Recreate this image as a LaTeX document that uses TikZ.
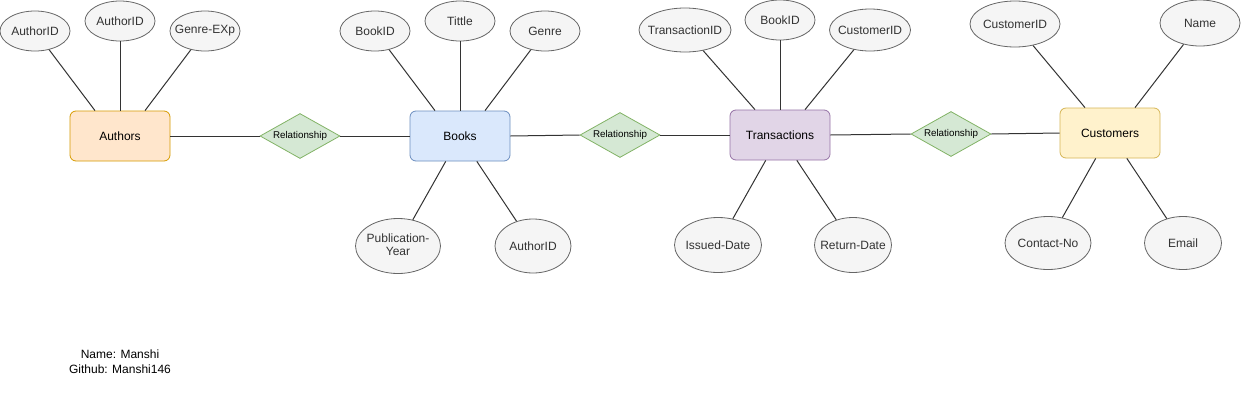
\documentclass[tikz,border=0pt]{standalone}
\usepackage{fontspec}
\setmainfont{Liberation Sans}
\usetikzlibrary{shapes.geometric}
\definecolor{attrfill}{HTML}{F5F5F5}
\definecolor{attrdraw}{HTML}{666666}
\definecolor{attrtext}{HTML}{333333}
\definecolor{orfill}{HTML}{FFE6CC}
\definecolor{ordraw}{HTML}{D79B00}
\definecolor{blfill}{HTML}{DAE8FC}
\definecolor{bldraw}{HTML}{6C8EBF}
\definecolor{pufill}{HTML}{E1D5E7}
\definecolor{pudraw}{HTML}{9673A6}
\definecolor{yefill}{HTML}{FFF2CC}
\definecolor{yedraw}{HTML}{D6B656}
\definecolor{grfill}{HTML}{D5E8D4}
\definecolor{grdraw}{HTML}{82B366}
\newcommand{\zw}[1]{\makebox[0pt]{#1}}
\tikzset{
  attr/.style={ellipse, draw=attrdraw, fill=attrfill, text=attrtext, line width=0.8pt,
    inner sep=0pt, font=\fontsize{12}{14.4}\selectfont},
  entity/.style={rectangle, rounded corners=6pt, line width=0.8pt, inner sep=0pt,
    minimum width=100pt, minimum height=50pt, font=\fontsize{12}{14.4}\selectfont},
  rel/.style={diamond, draw=grdraw, fill=grfill, line width=0.8pt, inner sep=0pt,
    minimum width=80pt, minimum height=45pt, aspect=1.78, font=\fontsize{9.8}{11}\selectfont},
  conn/.style={draw=black!80, line width=1pt},
}
\begin{document}
\begin{tikzpicture}[x=1pt,y=-1pt]
\useasboundingbox (0,0) rectangle (1241,402);
\fill[white] (0,0) rectangle (1241,402);

% entities
\node[entity, draw=ordraw, fill=orfill] (authors) at (120,136) {Authors};
\node[entity, draw=bldraw, fill=blfill] (books) at (460,136) {Books};
\node[entity, draw=pudraw, fill=pufill] (trans) at (780,135) {Transactions};
\node[entity, draw=yedraw, fill=yefill] (cust) at (1110,133) {Customers};

% relationships
\node[rel] (r1) at (300,136) {\zw{Relationship}};
\node[rel] (r2) at (620,135) {\zw{Relationship}};
\node[rel] (r3) at (951,134) {\zw{Relationship}};

% attributes: Authors
\node[attr, minimum width=70pt, minimum height=40pt] (a1) at (35,31) {\zw{AuthorID}};
\node[attr, minimum width=70pt, minimum height=40pt] (a2) at (120,21) {\zw{AuthorID}};
\node[attr, minimum width=70pt, minimum height=40pt] (a3) at (205,31) {\zw{Genre-EXp}};

% attributes: Books
\node[attr, minimum width=70pt, minimum height=40pt] (b1) at (375,31) {\zw{BookID}};
\node[attr, minimum width=70pt, minimum height=40pt] (b2) at (460,21) {\zw{Tittle}};
\node[attr, minimum width=70pt, minimum height=40pt] (b3) at (545,31) {\zw{Genre}};
\node[attr, minimum width=85pt, minimum height=55pt] (b4) at (398,246) {\zw{\begin{tabular}{@{}c@{}}Publication-\\[-1pt]Year\end{tabular}}};
\node[attr, minimum width=76pt, minimum height=54pt] (b5) at (533,246) {\zw{AuthorID}};

% attributes: Transactions
\node[attr, minimum width=92pt, minimum height=44pt] (t1) at (685,30) {\zw{TransactionID}};
\node[attr, minimum width=70pt, minimum height=40pt] (t2) at (780,20) {\zw{BookID}};
\node[attr, minimum width=81pt, minimum height=42pt] (t3) at (870,30) {\zw{CustomerID}};
\node[attr, minimum width=87pt, minimum height=55pt] (t4) at (718,245) {\zw{Issued-Date}};
\node[attr, minimum width=77pt, minimum height=55pt] (t5) at (853,245) {\zw{Return-Date}};

% attributes: Customers
\node[attr, minimum width=90pt, minimum height=46pt] (c1) at (1015,24) {\zw{CustomerID}};
\node[attr, minimum width=80pt, minimum height=46pt] (c2) at (1200,23) {\zw{Name}};
\node[attr, minimum width=86pt, minimum height=53pt] (c3) at (1048,243) {\zw{Contact-No}};
\node[attr, minimum width=77pt, minimum height=53pt] (c4) at (1183,243) {\zw{Email}};

% footer
\node[font=\fontsize{12}{15}\selectfont, align=center] (footer) at (120,361.5) {Name: Manshi\\Github: Manshi146};

% connectors: entity-relationship chain
\draw[conn] (authors.east) -- (r1.west);
\draw[conn] (r1.east) -- (books.west);
\draw[conn] (books.east) -- (r2.west);
\draw[conn] (r2.east) -- (trans.west);
\draw[conn] (trans.east) -- (r3.west);
\draw[conn] (r3.east) -- (cust.west);

% connectors: attributes on top
\draw[conn] (a1) -- ([xshift=-25pt]authors.north);
\draw[conn] (a2) -- (authors.north);
\draw[conn] (a3) -- ([xshift=25pt]authors.north);
\draw[conn] (b1) -- ([xshift=-25pt]books.north);
\draw[conn] (b2) -- (books.north);
\draw[conn] (b3) -- ([xshift=25pt]books.north);
\draw[conn] (t1) -- ([xshift=-25pt]trans.north);
\draw[conn] (t2) -- (trans.north);
\draw[conn] (t3) -- ([xshift=25pt]trans.north);
\draw[conn] (c1) -- ([xshift=-25pt]cust.north);
\draw[conn] (c2) -- ([xshift=25pt]cust.north);

% connectors: attributes below
\draw[conn] (b4) -- (books);
\draw[conn] (b5) -- (books);
\draw[conn] (t4) -- (trans);
\draw[conn] (t5) -- (trans);
\draw[conn] (c3) -- (cust);
\draw[conn] (c4) -- (cust);
\end{tikzpicture}
\end{document}
